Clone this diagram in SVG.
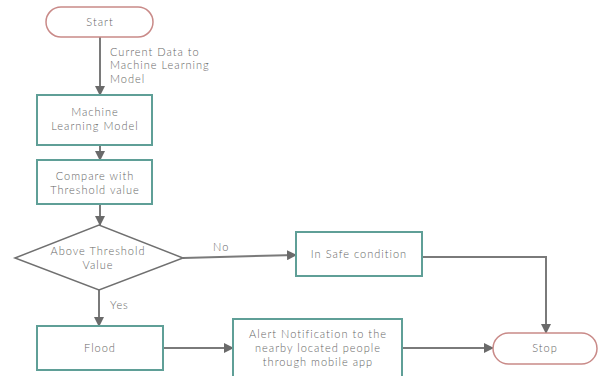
<svg xmlns="http://www.w3.org/2000/svg" width="598" height="376" viewBox="0 0 598 376">
<defs>
<style>
.box{fill:#ffffff;stroke:#5f9f97;stroke-width:2}
.term{fill:#ffffff;stroke:#c98a88;stroke-width:1.5}
.dia{fill:#ffffff;stroke:#707070;stroke-width:1.5}
.t{font-family:Lato,"Liberation Sans",sans-serif;font-size:11px;font-weight:300;letter-spacing:1px;fill:#666666;text-anchor:middle}
.lbl{font-family:Lato,"Liberation Sans",sans-serif;font-size:11px;font-weight:300;letter-spacing:1px;fill:#666666}
.c{fill:none;stroke:#7a7a7a;stroke-width:2}
</style>
<marker id="ah" markerWidth="10" markerHeight="10" refX="9" refY="5" orient="auto" markerUnits="userSpaceOnUse">
<path d="M0,0 L10,5 L0,10 Z" fill="#6a6a6a"/>
</marker>
</defs>
<rect width="598" height="376" fill="#ffffff"/>
<g id="connectors">
<line class="c" x1="100" y1="37" x2="100" y2="95" marker-end="url(#ah)"/>
<line class="c" x1="100" y1="145" x2="100" y2="160" marker-end="url(#ah)"/>
<line class="c" x1="100" y1="204" x2="100" y2="225" marker-end="url(#ah)"/>
<line class="c" x1="183" y1="258" x2="296" y2="255" marker-end="url(#ah)"/>
<polyline class="c" points="422,257 546,257 546,333" marker-end="url(#ah)"/>
<line class="c" x1="99" y1="290" x2="99" y2="326" marker-end="url(#ah)"/>
<line class="c" x1="163" y1="348" x2="233" y2="348" marker-end="url(#ah)"/>
<line class="c" x1="402" y1="348" x2="493" y2="348" marker-end="url(#ah)"/>
<text class="lbl" x="110" y="56">Current Data to</text>
<text class="lbl" x="110" y="69">Machine Learning</text>
<text class="lbl" x="110" y="83">Model</text>
<text class="lbl" x="213" y="251">No</text>
<text class="lbl" x="110" y="309">Yes</text>
</g>
<g id="start">
<rect class="term" x="46" y="7" width="107" height="30" rx="15"/>
<text class="t" x="100" y="26">Start</text>
</g>
<g id="ml">
<rect class="box" x="37" y="95" width="115" height="50"/>
<text class="t" x="95" y="116">Machine</text>
<text class="t" x="95" y="130">Learning Model</text>
</g>
<g id="compare">
<rect class="box" x="37" y="160" width="115" height="44"/>
<text class="t" x="95" y="180">Compare with</text>
<text class="t" x="95" y="194">Threshold value</text>
</g>
<g id="decision">
<polygon class="dia" points="15,258 99,225 183,258 99,290"/>
<text class="t" x="98" y="255">Above Threshold</text>
<text class="t" x="98" y="269">Value</text>
</g>
<g id="safe">
<rect class="box" x="296" y="232" width="126" height="44"/>
<text class="t" x="359" y="258">In Safe condition</text>
</g>
<g id="flood">
<rect class="box" x="37" y="326" width="126" height="44"/>
<text class="t" x="100" y="352">Flood</text>
</g>
<g id="alert">
<rect class="box" x="233" y="319" width="169" height="60"/>
<text class="t" x="318" y="338">Alert Notification to the</text>
<text class="t" x="318" y="352">nearby located people</text>
<text class="t" x="318" y="366">through mobile app</text>
</g>
<g id="stop">
<rect class="term" x="493" y="333" width="104" height="31" rx="15.5"/>
<text class="t" x="545" y="352">Stop</text>
</g>
</svg>
